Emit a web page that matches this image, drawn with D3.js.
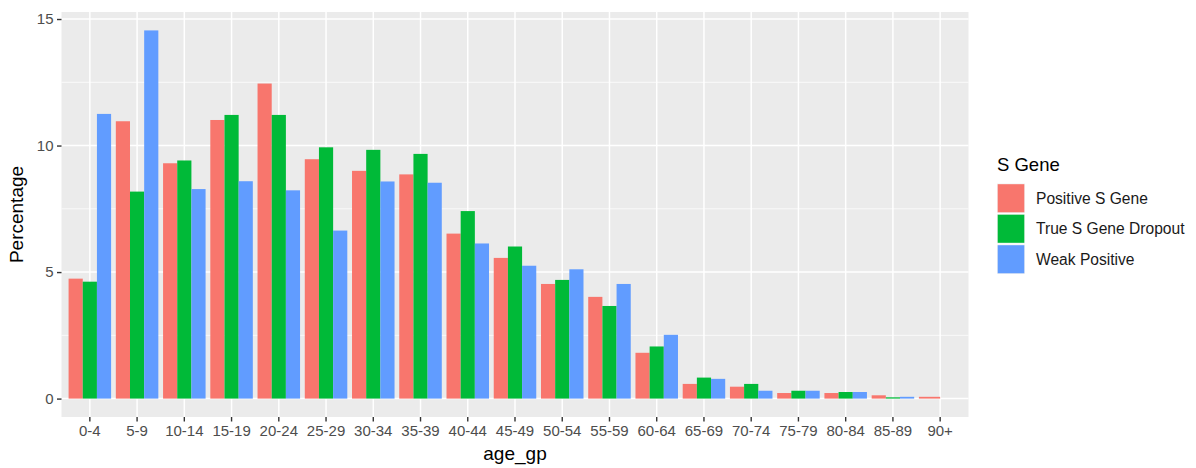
<!DOCTYPE html>
<html>
<head>
<meta charset="utf-8">
<script src="https://cdn.jsdelivr.net/npm/d3@7"></script>
<style>
  body { margin: 0; background: #fff; }
  text { font-family: "Liberation Sans", Arial, sans-serif; }
</style>
</head>
<body>
<div class="graph"></div>
<script>
const w = 1196;
const h = 468;
const panel = {left: 61.5, right: 968.5, top: 12, bottom: 417};

// data (percent)
const ageGroups = ["0-4", "5-9", "10-14", "15-19", "20-24", "25-29", "30-34", "35-39", "40-44",
                   "45-49", "50-54", "55-59", "60-64", "65-69", "70-74", "75-79", "80-84", "85-89", "90+"];
const seriesNames = ["Positive S Gene", "True S Gene Dropout", "Weak Positive"];
const positive = [4.74, 10.96, 9.30, 11.01, 12.45, 9.46, 9.00, 8.86, 6.52, 5.56, 4.53, 4.02, 1.81, 0.58, 0.47, 0.22, 0.22, 0.13, 0.07];
const dropout  = [4.62, 8.18, 9.41, 11.21, 11.21, 9.93, 9.83, 9.67, 7.41, 6.01, 4.69, 3.66, 2.06, 0.83, 0.58, 0.31, 0.26, 0.05, 0];
const weak     = [11.25, 14.55, 8.28, 8.59, 8.23, 6.64, 8.58, 8.53, 6.13, 5.25, 5.11, 4.53, 2.52, 0.78, 0.31, 0.31, 0.26, 0.07, null];
const colors = ["#F8766D", "#00BA38", "#619CFF"];
const yTicks = [0, 5, 10, 15];
const yMinor = [2.5, 7.5, 12.5];

const values = [positive, dropout, weak];
const rows = ageGroups.map((g, i) => ({
  group: g,
  bars: seriesNames.map((s, j) => ({series: s, value: values[j][i], color: colors[j]}))
                   .filter(b => b.value !== null)
}));

const maxVal = d3.max(values.flat());
const pad = maxVal * 0.05;

const x = d3.scaleBand()
            .domain(ageGroups)
            .range([panel.left, panel.right])
            .paddingInner(0.1)
            .paddingOuter(0.15);

const y = d3.scaleLinear()
            .domain([-pad, maxVal + pad])
            .range([panel.bottom, panel.top]);

const canvas = d3.select(".graph")
                 .append("svg")
                 .attr("width", w)
                 .attr("height", h);

// panel background
canvas.append("rect")
      .attr("x", panel.left)
      .attr("y", panel.top)
      .attr("width", panel.right - panel.left)
      .attr("height", panel.bottom - panel.top)
      .attr("fill", "#EBEBEB");

// grid
canvas.append("g")
      .selectAll("line")
      .data(yMinor)
      .enter().append("line")
      .attr("x1", panel.left).attr("x2", panel.right)
      .attr("y1", d => y(d)).attr("y2", d => y(d))
      .attr("stroke", "#fff").attr("stroke-width", 0.75);

canvas.append("g")
      .selectAll("line")
      .data(yTicks)
      .enter().append("line")
      .attr("x1", panel.left).attr("x2", panel.right)
      .attr("y1", d => y(d)).attr("y2", d => y(d))
      .attr("stroke", "#fff").attr("stroke-width", 1.5);

canvas.append("g")
      .selectAll("line")
      .data(ageGroups)
      .enter().append("line")
      .attr("x1", d => x(d) + x.bandwidth() / 2).attr("x2", d => x(d) + x.bandwidth() / 2)
      .attr("y1", panel.top).attr("y2", panel.bottom)
      .attr("stroke", "#fff").attr("stroke-width", 1.5);

// bars, dodged within each age group
const groups = canvas.append("g")
                     .selectAll("g")
                     .data(rows)
                     .enter().append("g")
                     .attr("transform", d => `translate(${x(d.group)},0)`);

groups.each(function(d) {
  const sub = d3.scaleBand()
                .domain(d.bars.map(b => b.series))
                .range([0, x.bandwidth()]);
  d3.select(this).selectAll("rect")
    .data(d.bars)
    .enter().append("rect")
    .attr("x", b => sub(b.series))
    .attr("width", sub.bandwidth())
    .attr("y", b => y(Math.max(0, b.value)))
    .attr("height", b => Math.abs(y(0) - y(b.value)))
    .attr("fill", b => b.color);
});

// axes
const xAxis = canvas.append("g")
                    .attr("transform", `translate(0,${panel.bottom})`)
                    .call(d3.axisBottom(x).tickSize(4.5).tickPadding(3.5));
const yAxis = canvas.append("g")
                    .attr("transform", `translate(${panel.left},0)`)
                    .call(d3.axisLeft(y).tickValues(yTicks).tickSize(4.5).tickPadding(3.5));

[xAxis, yAxis].forEach(a => {
  a.select(".domain").remove();
  a.selectAll(".tick line").attr("stroke", "#333").attr("stroke-width", 1.4);
  a.selectAll(".tick text")
   .attr("fill", "#4D4D4D")
   .style("font-size", "15px")
   .style("font-family", "'Liberation Sans', Arial, sans-serif");
});

// axis titles
canvas.append("text")
      .attr("x", (panel.left + panel.right) / 2)
      .attr("y", 460)
      .attr("text-anchor", "middle")
      .style("font-size", "19px")
      .text("age_gp");

canvas.append("text")
      .attr("transform", `translate(23,${(panel.top + panel.bottom) / 2}) rotate(-90)`)
      .attr("text-anchor", "middle")
      .style("font-size", "19px")
      .text("Percentage");

// legend
const legend = canvas.append("g")
                     .attr("transform", "translate(997,0)");

legend.append("text")
      .attr("x", 0)
      .attr("y", 170.5)
      .style("font-size", "18.5px")
      .text("S Gene");

const item = legend.selectAll("g.item")
                   .data(seriesNames)
                   .enter().append("g")
                   .attr("class", "item")
                   .attr("transform", (d, i) => `translate(0,${183.5 + i * 30.5})`);

item.append("rect")
    .attr("width", 28)
    .attr("height", 29.5)
    .attr("fill", "#F2F2F2");

item.append("rect")
    .attr("x", 0.7).attr("y", 0.7)
    .attr("width", 26.6)
    .attr("height", 28.1)
    .attr("fill", (d, i) => colors[i]);

item.append("text")
    .attr("x", 39)
    .attr("y", 15)
    .attr("dy", "0.35em")
    .style("font-size", "15.6px")
    .attr("fill", "#1a1a1a")
    .text(d => d);
</script>
</body>
</html>
